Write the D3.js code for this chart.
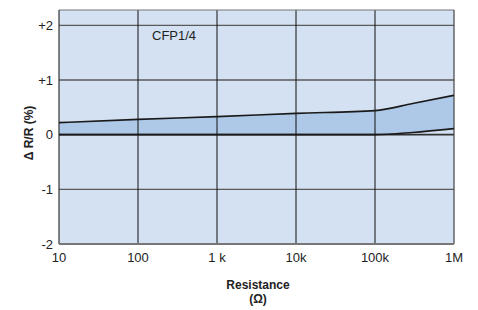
<!DOCTYPE html>
<html>
<head>
<meta charset="utf-8">
<script src="https://cdn.jsdelivr.net/npm/d3@7"></script>
<style>
  body { margin: 0; background: #fff; }
  text { font-family: "Liberation Sans", Arial, sans-serif; fill: #222; }
</style>
</head>
<body>
<svg id="chart" width="478" height="310"></svg>
<script>
// data
const resistance = [10, 100, 1e3, 1e4, 1e5, 3e5, 1e6];
const upperDrift = [0.22, 0.28, 0.33, 0.39, 0.44, 0.57, 0.72];
const lowerDrift = [0.0, 0.0, 0.0, 0.0, 0.0, 0.04, 0.11];
const xTicks = [10, 100, 1e3, 1e4, 1e5, 1e6];
const xTickLabels = ['10', '100', '1 k', '10k', '100k', '1M'];
const yTicks = [-2, -1, 0, 1, 2];
const yTickLabels = ['-2', '-1', '0', '+1', '+2'];

const svg = d3.select('#chart');
const margin = { top: 10, left: 59, right: 24, bottom: 66 };
const width = 478 - margin.left - margin.right;
const height = 310 - margin.top - margin.bottom;

const x = d3.scaleLog().domain([10, 1e6]).range([0, width]);
const y = d3.scaleLinear().domain([-2, 2.28]).range([height, 0]);

const g = svg.append('g').attr('transform', `translate(${margin.left},${margin.top})`);

// background
g.append('rect')
  .attr('width', width).attr('height', height)
  .attr('fill', '#d4e1f2');

// band
const band = resistance.map((r, i) => ({ r: r, hi: upperDrift[i], lo: lowerDrift[i] }));
g.append('path')
  .datum(band)
  .attr('fill', '#aec8e8')
  .attr('d', d3.area().x(d => x(d.r)).y0(d => y(d.lo)).y1(d => y(d.hi)).curve(d3.curveMonotoneX));

// grid
g.selectAll('.hgrid').data(yTicks).enter().append('line')
  .attr('x1', 0).attr('x2', width)
  .attr('y1', d => y(d)).attr('y2', d => y(d))
  .attr('stroke', d => d === 0 ? '#333' : '#5a5a5a')
  .attr('stroke-width', d => d === 0 ? 1.6 : 1.3);

g.selectAll('.vgrid').data(xTicks.slice(1, -1)).enter().append('line')
  .attr('x1', d => x(d)).attr('x2', d => x(d))
  .attr('y1', 0).attr('y2', height)
  .attr('stroke', '#111').attr('stroke-width', 1);

// border
g.append('line').attr('x1', 0).attr('x2', width).attr('y1', 0).attr('y2', 0)
  .attr('stroke', '#777').attr('stroke-width', 1.2);
g.append('line').attr('x1', width).attr('x2', width).attr('y1', 0).attr('y2', height)
  .attr('stroke', '#444').attr('stroke-width', 1.2);
g.append('line').attr('x1', 0).attr('x2', 0).attr('y1', 0).attr('y2', height)
  .attr('stroke', '#333').attr('stroke-width', 1.2);
g.append('line').attr('x1', 0).attr('x2', width).attr('y1', height).attr('y2', height)
  .attr('stroke', '#777').attr('stroke-width', 2);

// band edges
const lineHi = d3.line().x(d => x(d.r)).y(d => y(d.hi)).curve(d3.curveMonotoneX);
const lineLo = d3.line().x(d => x(d.r)).y(d => y(d.lo)).curve(d3.curveMonotoneX);
g.append('path').datum(band).attr('fill', 'none').attr('stroke', '#1a1a1a').attr('stroke-width', 1.6).attr('d', lineHi);
g.append('path').datum(band).attr('fill', 'none').attr('stroke', '#1a1a1a').attr('stroke-width', 1.6).attr('d', lineLo);

// tick labels
g.selectAll('.ylab').data(yTicks).enter().append('text')
  .attr('x', -6).attr('y', d => y(d)).attr('dy', '0.35em')
  .attr('text-anchor', 'end').attr('font-size', 13)
  .text((d, i) => yTickLabels[i]);

g.selectAll('.xlab').data(xTicks).enter().append('text')
  .attr('x', d => x(d)).attr('y', height + 18)
  .attr('text-anchor', 'middle').attr('font-size', 13)
  .text((d, i) => xTickLabels[i]);

// series label
g.append('text').attr('x', 93).attr('y', 30).attr('font-size', 13).text('CFP1/4');

// axis titles
svg.append('text').attr('x', 258).attr('y', 289).attr('text-anchor', 'middle')
  .attr('font-size', 12).attr('font-weight', 'bold').text('Resistance');
svg.append('text').attr('x', 258).attr('y', 303).attr('text-anchor', 'middle')
  .attr('font-size', 12).attr('font-weight', 'bold').text('(Ω)');
svg.append('text')
  .attr('transform', 'translate(33,133) rotate(-90)')
  .attr('text-anchor', 'middle').attr('font-size', 12).attr('font-weight', 'bold')
  .text('Δ R/R (%)');
</script>
</body>
</html>
